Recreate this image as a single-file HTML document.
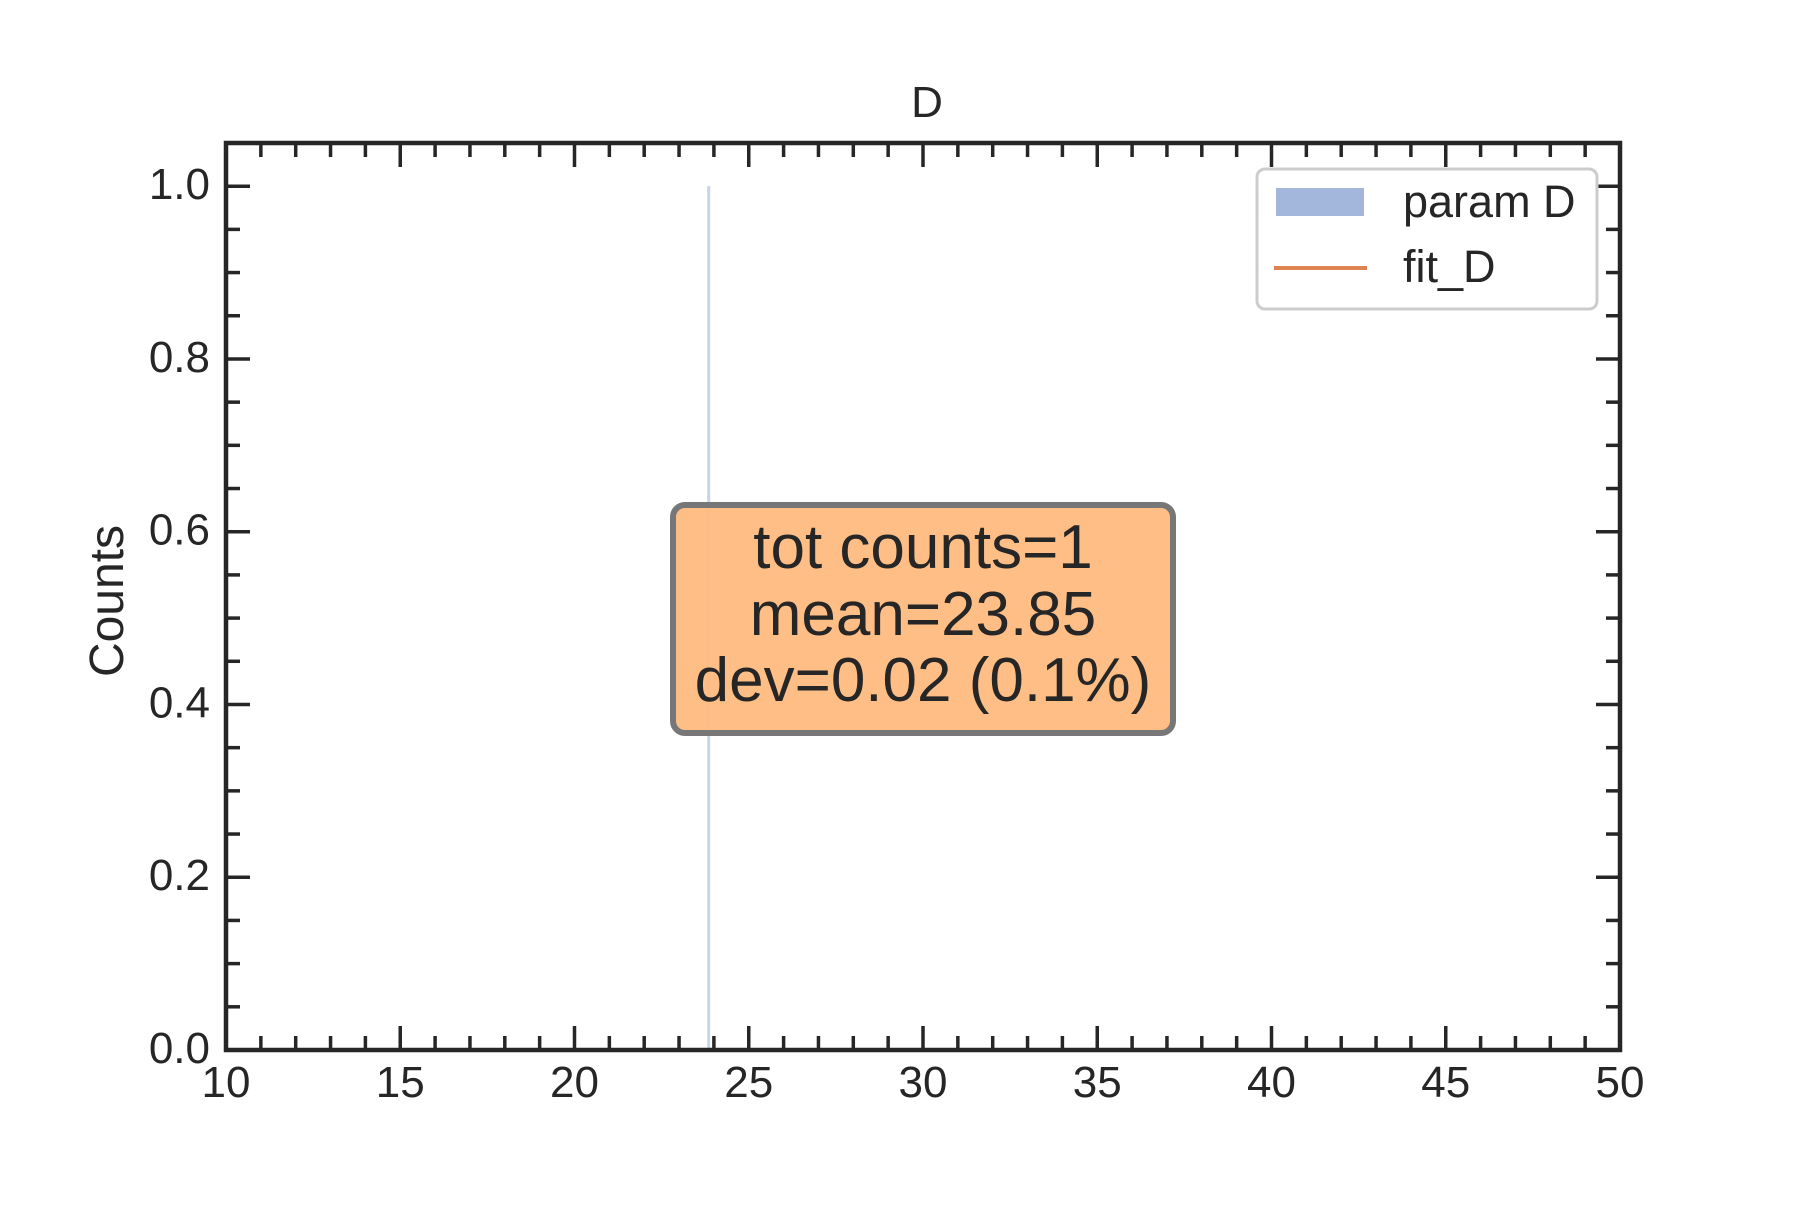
<!DOCTYPE html>
<html><head><meta charset="utf-8"><style>
body{margin:0;background:#fff}
svg text{font-family:"Liberation Sans",sans-serif;fill:#262626}
</style></head><body>
<svg id="chart" width="1800" height="1200" viewBox="0 0 1800 1200">
<rect width="1800" height="1200" fill="#fff"/>
<g id="marks"></g>
<g id="axes"></g>
<text x="927" y="117" font-size="44" text-anchor="middle">D</text>
<text transform="translate(123,601) rotate(-90)" font-size="48" text-anchor="middle">Counts</text>
<g>
<rect x="673" y="505" width="500" height="228" rx="12" fill="#ffbb80" fill-opacity="0.95" stroke="#777" stroke-width="6"/>
<text x="923" y="568" font-size="62" text-anchor="middle">tot counts=1</text>
<text x="923" y="635" font-size="62" text-anchor="middle">mean=23.85</text>
<text x="923" y="701" font-size="62" text-anchor="middle">dev=0.02 (0.1%)</text>
</g>
<g>
<rect x="1257" y="169" width="340" height="140" rx="8" fill="#fff" fill-opacity="0.8" stroke="#ccc" stroke-width="3"/>
<rect x="1276" y="188" width="88" height="28" fill="#a3b7dc"/>
<text x="1403" y="217" font-size="45">param D</text>
<line x1="1274" y1="268" x2="1367" y2="268" stroke="#dd8452" stroke-width="4"/>
<text x="1403" y="282" font-size="45">fit_D</text>
</g>
</svg>
<script>
const binEdges=[23.85,23.85];
const binCounts=[1];
const xTicks=[10,15,20,25,30,35,40,45,50];
const yTicks=[0.0,0.2,0.4,0.6,0.8,1.0];
const L=226,R=1620,T=143,B=1050,xmin=10,xmax=50,ymin=0,ymax=1.05;
const sx=v=>L+(v-xmin)/(xmax-xmin)*(R-L);
const sy=v=>B-(v-ymin)/(ymax-ymin)*(B-T);
const NS="http://www.w3.org/2000/svg";
const marks=document.getElementById('marks'),axes=document.getElementById('axes');
function mk(tag,attrs,parent){const e=document.createElementNS(NS,tag);for(const k in attrs)e.setAttribute(k,attrs[k]);parent.appendChild(e);return e;}
binCounts.forEach((c,i)=>{
  const x0=sx(binEdges[i]),x1=sx(binEdges[i+1]);
  const r=mk('rect',{x:Math.min(x0,x1)-1.5,y:sy(c),width:Math.max(3,Math.abs(x1-x0)),height:sy(0)-sy(c),fill:'#a3b7dc','fill-opacity':0.6},marks);
  
  
});
for(let v=xmin;v<=xmax+1e-9;v+=1){
  const major=Math.abs(v/5-Math.round(v/5))<1e-9;const len=major?24:14;const x=sx(v);
  mk('line',{x1:x,y1:B,x2:x,y2:B-len,stroke:'#262626','stroke-width':3.5},axes);
  mk('line',{x1:x,y1:T,x2:x,y2:T+len,stroke:'#262626','stroke-width':3.5},axes);
}
for(let k=0;k<=21;k++){
  const v=k*0.05;const major=k%4===0;const len=major?24:14;const y=sy(v);
  mk('line',{x1:L,y1:y,x2:L+len,y2:y,stroke:'#262626','stroke-width':3.5},axes);
  mk('line',{x1:R,y1:y,x2:R-len,y2:y,stroke:'#262626','stroke-width':3.5},axes);
}
xTicks.forEach(v=>{
  const t=mk('text',{x:sx(v),y:1097,'font-size':44,'text-anchor':'middle'},axes);t.textContent=v;
  
  
});
yTicks.forEach(v=>{
  const t=mk('text',{x:210,y:sy(v)+13,'font-size':44,'text-anchor':'end'},axes);t.textContent=v.toFixed(1);
  
  
});
const frame=mk('rect',{x:L,y:T,width:R-L,height:B-T,fill:'none',stroke:'#262626','stroke-width':4.5},axes);


</script>
</body></html>
